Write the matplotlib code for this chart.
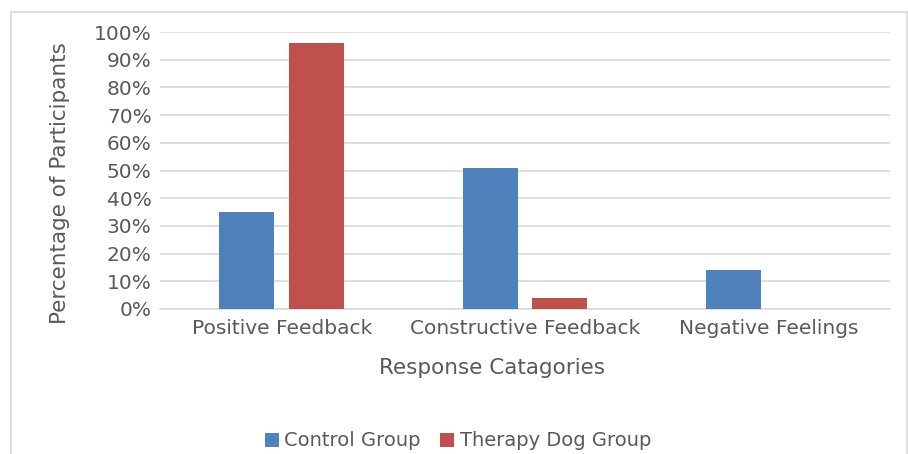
import numpy as np
import matplotlib
matplotlib.use("Agg")
from matplotlib import pyplot as plt
from matplotlib.patches import Rectangle
from matplotlib.ticker import PercentFormatter

# Chart data
categories = ["Positive Feedback", "Constructive Feedback", "Negative Feelings"]
control_group = [35, 51, 14]
therapy_dog_group = [96, 4, 0]
y_ticks = list(range(0, 101, 10))

text_color = "#595959"
grid_color = "#d9d9d9"

plt.rcParams["font.family"] = ["DejaVu Sans"]

fig = plt.figure(figsize=(9.08, 4.54), dpi=100)
W, H = 908, 454

# Outer chart border
fig.patches.append(
    Rectangle((10.5 / W, -0.01), (907 - 10.5) / W, (H - 12) / H + 0.01,
              transform=fig.transFigure, fill=False, edgecolor=grid_color,
              linewidth=1.2)
)

ax = fig.add_axes([160 / W, 1 - 309 / H, (890 - 160) / W, (309 - 32) / H])

x = np.arange(len(categories))
width = 0.226
offset = 0.143
ax.bar(x - offset, control_group, width, color="#4f81bd", label="Control Group", zorder=3)
ax.bar(x + offset, therapy_dog_group, width, color="#c0504d", label="Therapy Dog Group", zorder=3)

ax.set_xlim(-0.5, len(categories) - 0.5)
ax.set_ylim(0, 100)
ax.set_yticks(y_ticks)
ax.yaxis.set_major_formatter(PercentFormatter(decimals=0))
ax.set_xticks(x)
ax.set_xticklabels(categories)

ax.grid(axis="y", color=grid_color, linewidth=1.2, zorder=0)
for side in ["top", "right", "left"]:
    ax.spines[side].set_visible(False)
ax.spines["bottom"].set_color(grid_color)
ax.spines["bottom"].set_linewidth(1.2)
ax.tick_params(axis="both", length=0, colors=text_color, labelsize=14.5)
ax.tick_params(axis="y", pad=6)
ax.tick_params(axis="x", pad=7)

# Axis titles placed like the original (not centred on the plot area)
fig.text(492 / W, 1 - 368 / H, "Response Catagories", color=text_color,
         fontsize=15.5, ha="center", va="center")
fig.text(60 / W, 1 - 183 / H, "Percentage of Participants", color=text_color,
         fontsize=15.5, ha="center", va="center", rotation=90)

leg = fig.legend(loc="center", bbox_to_anchor=(458 / W, 1 - 441 / H), ncol=2,
                 frameon=False, fontsize=14, handlelength=0.7, handleheight=0.7,
                 handletextpad=0.3, columnspacing=1.0)
for t in leg.get_texts():
    t.set_color(text_color)

fig.savefig("out.png", dpi=100)
